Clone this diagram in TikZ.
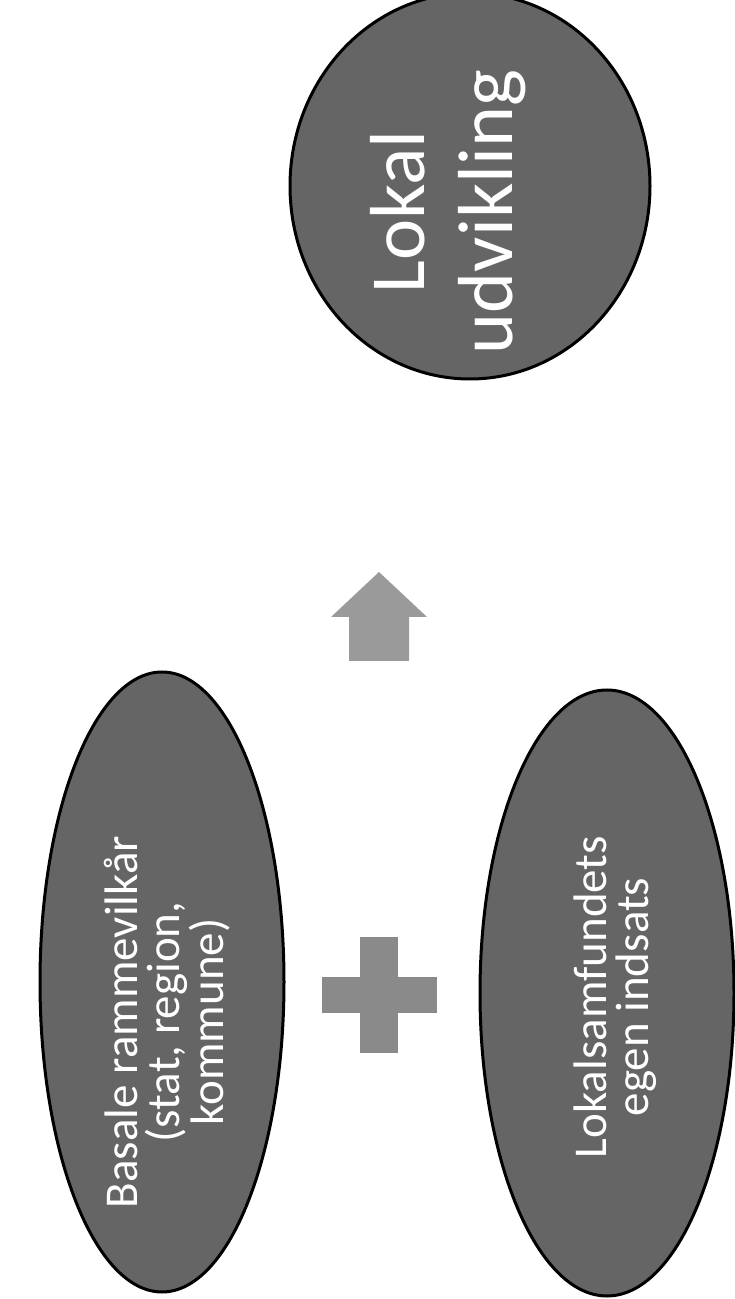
\documentclass[tikz,border=0pt]{standalone}
\usepackage{fontspec}
\setmainfont{Carlito}
\usetikzlibrary{shapes.geometric}
\definecolor{blobfill}{HTML}{656565}
\definecolor{arrowfill}{HTML}{9A9A9A}
\definecolor{plusfill}{HTML}{8A8A8A}
\begin{document}
\begin{tikzpicture}[x=1pt,y=1pt,
  blob/.style={ellipse, draw=black, line width=3pt, fill=blobfill, inner sep=0pt, outer sep=0pt},
  lbl/.style={rotate=90, text=white, align=center, inner sep=0pt},
  biglbl/.style={lbl, font=\fontsize{78}{88}\selectfont},
  smalllbl/.style={lbl, font=\fontsize{47}{42}\selectfont}]
\useasboundingbox (0,0) rectangle (735,1299);
% top circle
\node[blob, minimum width=360, minimum height=386] (goal) at (470,1113) {};
\node[biglbl] (goaltext) at (448,1087) {Lokal\\udvikling};
% bottom-left ellipse
\node[blob, minimum width=244, minimum height=620] (frame) at (162,317) {};
\node[smalllbl] (frametext) at (167,277) {Basale rammevilkår\\(stat, region,\\kommune)};
% bottom-right ellipse
\node[blob, minimum width=254, minimum height=606] (own) at (607,306) {};
\node[smalllbl] (owntext) at (615,302) {Lokalsamfundets\\egen indsats};
% up arrow
\coordinate (arrowbase) at (379,638);
\fill[arrowfill] (349,638) -- (349,682) -- (331,682) -- (379,727) -- (427,682) -- (409,682) -- (409,638) -- cycle;
% plus sign
\coordinate (plus) at (379,304);
\fill[plusfill] (360,246) rectangle (398,362);
\fill[plusfill] (322,286) rectangle (437,322);
\end{tikzpicture}
\end{document}
